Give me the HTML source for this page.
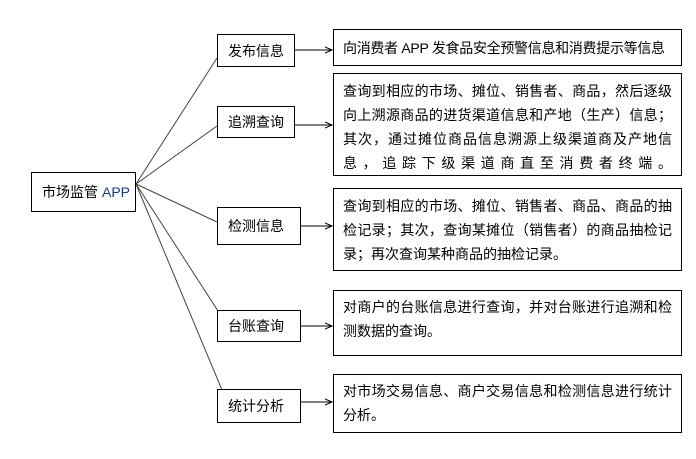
<!DOCTYPE html>
<html><head><meta charset="utf-8"><style>
body{margin:0;width:696px;height:459px;background:#fff;position:relative;overflow:hidden;font-family:"Liberation Sans","Noto Sans CJK SC",sans-serif;font-size:14px;color:#000}
.b{position:absolute;border:1px solid #000;box-sizing:border-box;background:#fff}
.l{display:flex;align-items:center;padding-left:10px}
.r{padding:7px 9px 0 9px;line-height:24px;text-align:justify}
svg{position:absolute;left:0;top:0}
</style></head><body>
<svg width="696" height="459">
<defs><marker id="a" markerWidth="8" markerHeight="8" refX="7" refY="4" orient="auto"><path d="M0,1 L7,4 L0,7" fill="none" stroke="#000"/></marker></defs>
<g stroke="#444" stroke-width="1">
<line x1="136" y1="184" x2="217" y2="58"/>
<line x1="136" y1="184" x2="217" y2="126"/>
<line x1="136" y1="184" x2="217" y2="222"/>
<line x1="136" y1="184" x2="218" y2="311"/>
<line x1="136" y1="184" x2="222" y2="390"/>
</g>
<g stroke="#000" marker-end="url(#a)">
<line x1="294" y1="50" x2="332" y2="50"/>
<line x1="294" y1="125" x2="332" y2="125"/>
<line x1="300" y1="226" x2="332" y2="226"/>
<line x1="300" y1="326" x2="332" y2="326"/>
<line x1="300" y1="402" x2="332" y2="402"/>
</g>
</svg>
<div class="b l" style="left:31px;top:172px;width:105px;height:40px">市场监管 <span style="color:#1a3a8a;margin-left:4px">APP</span></div>
<div class="b l" style="left:217px;top:34px;width:78px;height:33px">发布信息</div>
<div class="b l" style="left:217px;top:106px;width:78px;height:32px">追溯查询</div>
<div class="b l" style="left:217px;top:207px;width:84px;height:38px">检测信息</div>
<div class="b l" style="left:217px;top:310px;width:84px;height:32px">台账查询</div>
<div class="b l" style="left:217px;top:389px;width:84px;height:34px">统计分析</div>
<div class="b" style="left:333px;top:29px;width:349px;height:37px;padding:7px 9px;line-height:22px;white-space:nowrap;letter-spacing:-0.3px">向消费者 APP 发食品安全预警信息和消费提示等信息</div>
<div class="b r" style="left:333px;top:73px;width:349px;height:103px;padding-top:5px;text-align-last:justify">查询到相应的市场、摊位、销售者、商品，然后逐级向上溯源商品的进货渠道信息和产地（生产）信息；其次，通过摊位商品信息溯源上级渠道商及产地信息，追踪下级渠道商直至消费者终端。</div>
<div class="b r" style="left:333px;top:188px;width:349px;height:83px;padding-top:5px">查询到相应的市场、摊位、销售者、商品、商品的抽检记录；其次，查询某摊位（销售者）的商品抽检记录；再次查询某种商品的抽检记录。</div>
<div class="b r" style="left:333px;top:290px;width:349px;height:66px;padding-top:4px">对商户的台账信息进行查询，并对台账进行追溯和检测数据的查询。</div>
<div class="b r" style="left:333px;top:374px;width:349px;height:59px;padding-top:4px">对市场交易信息、商户交易信息和检测信息进行统计分析。</div>
</body></html>
